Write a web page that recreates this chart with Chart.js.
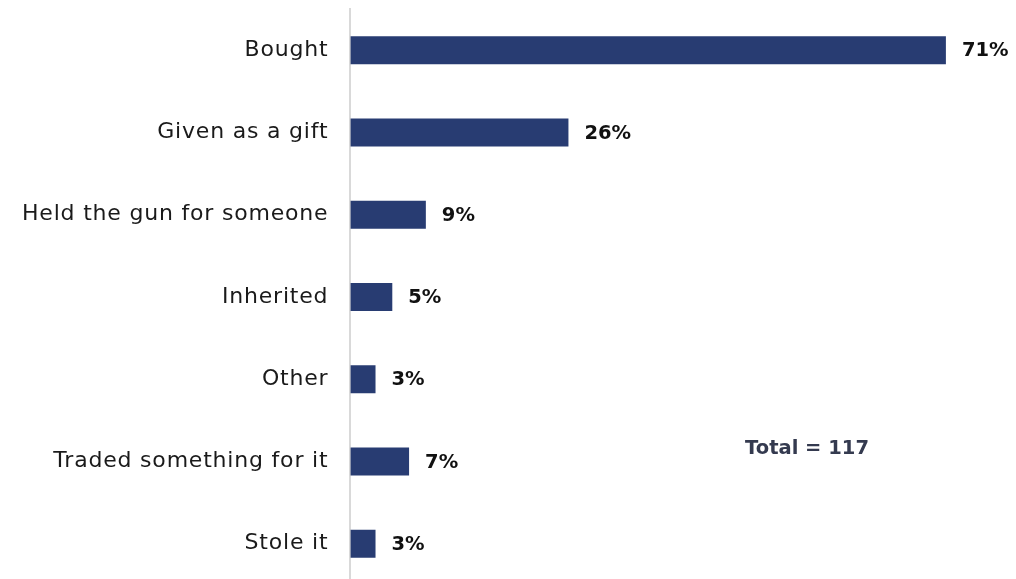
<!DOCTYPE html>
<html>
<head>
<meta charset="utf-8">
<script src="https://cdn.jsdelivr.net/npm/chart.js@4/dist/chart.umd.min.js"></script>
<style>
  html, body { margin: 0; padding: 0; background: #ffffff; overflow: hidden; }
  #wrap { position: relative; width: 1016px; height: 579px; overflow: hidden; }
  #chart { position: absolute; left: 0; top: -26px; }
</style>
</head>
<body>
<div id="wrap"><canvas id="chart" width="1016" height="646"></canvas></div>
<script>
const categories = [
  "Bought",
  "Given as a gift",
  "Held the gun for someone",
  "Inherited",
  "Other",
  "Traded something for it",
  "Stole it"
];
const percentages = [71, 26, 9, 5, 3, 7, 3];
const totalNote = "Total = 117";

const FONT = "'DejaVu Sans', sans-serif";
const LABEL_SPACING = "0.8px";

// Slightly wider tracking for the category labels (measured and drawn by the y scale)
const tracking = {
  id: "tracking",
  beforeLayout(chart) { chart.ctx.letterSpacing = LABEL_SPACING; },
  beforeDraw(chart) { chart.ctx.letterSpacing = LABEL_SPACING; }
};

// Value labels at the end of each bar, plus the total note
const valueLabels = {
  id: "valueLabels",
  afterDatasetsDraw(chart) {
    const ctx = chart.ctx;
    const meta = chart.getDatasetMeta(0);
    ctx.save();
    ctx.letterSpacing = "0px";
    ctx.font = "bold 19.5px " + FONT;
    ctx.fillStyle = "#111111";
    ctx.textAlign = "left";
    ctx.textBaseline = "middle";
    meta.data.forEach((bar, i) => {
      ctx.fillText(percentages[i] + "%", bar.x + 16, bar.y + 1);
    });
    ctx.fillStyle = "#343a4f";
    ctx.textAlign = "center";
    ctx.fillText(totalNote, 807, 449 + 26);
    ctx.restore();
  }
};

new Chart(document.getElementById("chart"), {
  type: "bar",
  data: {
    labels: categories,
    datasets: [{
      data: percentages,
      backgroundColor: "#283c72",
      borderWidth: 0,
      categoryPercentage: 1,
      barPercentage: 0.34
    }]
  },
  options: {
    indexAxis: "y",
    responsive: false,
    animation: false,
    layout: { padding: { top: 8, right: 3, bottom: 0, left: 0 } },
    plugins: { legend: { display: false }, tooltip: { enabled: false } },
    scales: {
      x: { min: 0, max: 79, display: false },
      y: {
        grid: { display: false, drawTicks: false },
        border: { display: true, color: "#d9d9d9", width: 2 },
        ticks: { color: "#1a1a1a", padding: 22, font: { family: FONT, size: 22 } }
      }
    }
  },
  plugins: [tracking, valueLabels]
});
</script>
</body>
</html>
